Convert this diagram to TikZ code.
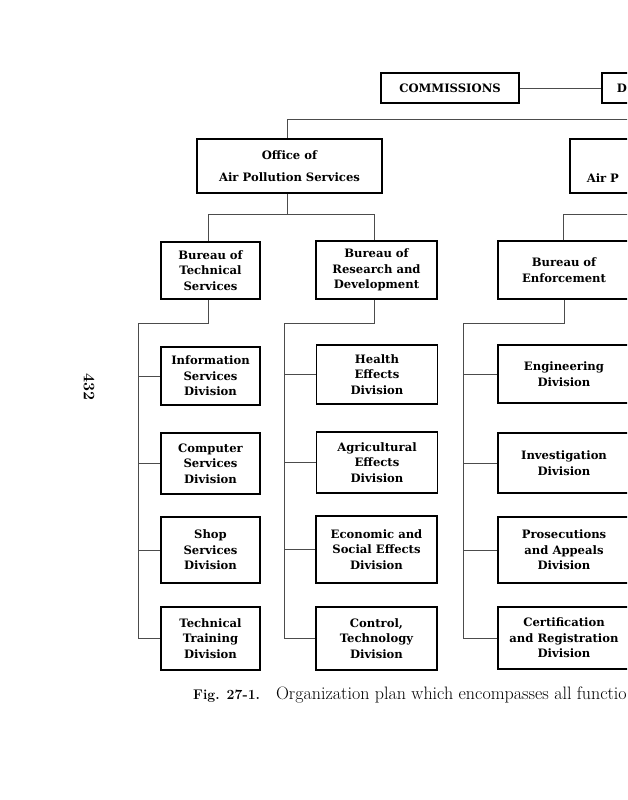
\documentclass[tikz,border=0pt]{standalone}
\usepackage{fontspec}
\newfontfamily\boxfont{DejaVu Serif}
\begin{document}
\begin{tikzpicture}[x=1pt,y=-1pt,
  box/.style={draw=black, line width=1.5pt, inner sep=0pt, align=center,
    font=\boxfont\bfseries\fontsize{11.6}{15.6}\selectfont},
  conn/.style={draw=black!70, line width=0.7pt},
]
\useasboundingbox[fill=white] (0,0) rectangle (627,800);
\clip (0,0) rectangle (627,800);

% top row
\node[box, minimum width=138pt, minimum height=30pt] (comm) at (450,88) {COMMISSIONS};
\node[box, anchor=west, minimum width=120pt, text width=120pt, minimum height=30pt, align=left] (dir) at (601,88) {\hspace*{15pt}D};

% offices
\node[box, minimum width=185pt, minimum height=54pt] (office) at (289.5,166) {Office of\\[7pt]Air Pollution Services};
\node[box, anchor=west, minimum width=200pt, text width=200pt, minimum height=54pt, align=left] (airp) at (569,166) {\strut\\[7pt]\hspace*{17pt}Air P};

% bureaus
\node[box, minimum width=99pt, minimum height=57pt] (btech) at (210.5,270.5) {Bureau of\\Technical\\Services};
\node[box, minimum width=121pt, minimum height=58pt] (brd) at (376.5,270) {Bureau of\\Research and\\Development};
\node[box, minimum width=132pt, minimum height=58pt] (benf) at (564,270) {Bureau of\\Enforcement};

% left column
\node[box, minimum width=99pt, minimum height=58pt] (info) at (210.5,376) {Information\\Services\\Division};
\node[box, minimum width=99pt, minimum height=61pt] (comp) at (210.5,463.5) {Computer\\Services\\Division};
\node[box, minimum width=99pt, minimum height=66pt] (shop) at (210.5,550) {Shop\\Services\\Division};
\node[box, minimum width=99pt, minimum height=63pt] (ttrain) at (210.5,638.5) {Technical\\Training\\Division};

% middle column
\node[box, minimum width=121pt, minimum height=59pt] (health) at (377,374.5) {Health\\Effects\\Division};
\node[box, minimum width=121pt, minimum height=61pt] (agri) at (377,462.5) {Agricultural\\Effects\\Division};
\node[box, minimum width=121pt, minimum height=67pt] (econ) at (376.5,549.5) {Economic and\\Social Effects\\Division};
\node[box, minimum width=121pt, minimum height=63pt] (control) at (376.5,638.5) {Control,\\Technology\\Division};

% right column
\node[box, minimum width=132pt, minimum height=58pt] (eng) at (564,374) {Engineering\\Division};
\node[box, minimum width=132pt, minimum height=60pt] (inv) at (564,463) {Investigation\\Division};
\node[box, minimum width=132pt, minimum height=66pt] (pros) at (564,550) {Prosecutions\\and Appeals\\Division};
\node[box, minimum width=132pt, minimum height=62pt] (cert) at (564,638) {Certification\\and Registration\\Division};

% connectors top
\draw[conn] (comm.east) -- (dir.west);
\coordinate (tb) at (287,119);
\coordinate (tbR) at (640,119);
\draw[conn] (tbR) -- (tb) -- (office.north -| tb);

\coordinate (ob) at (287,214);
\coordinate (obL) at (208,214);
\coordinate (obR) at (374,214);
\draw[conn] (office.south -| ob) -- (ob);
\draw[conn] (btech.north -| obL) -- (obL) -- (obR) -- (brd.north -| obR);

\coordinate (eb) at (563,214);
\coordinate (ebR) at (640,214);
\draw[conn] (benf.north -| eb) -- (eb) -- (ebR);

% left group
\coordinate (lb) at (208,323);
\coordinate (ls) at (138,323);
\draw[conn] (btech.south -| lb) -- (lb) -- (ls) -- (ls |- ttrain.west) -- (ttrain.west);
\foreach \n in {info,comp,shop} \draw[conn] (ls |- \n.west) -- (\n.west);

% middle group
\coordinate (mb) at (374,323);
\coordinate (ms) at (284,323);
\draw[conn] (brd.south -| mb) -- (mb) -- (ms) -- (ms |- control.west) -- (control.west);
\foreach \n in {health,agri,econ} \draw[conn] (ms |- \n.west) -- (\n.west);

% right group
\coordinate (rb) at (564,323);
\coordinate (rs) at (463,323);
\draw[conn] (benf.south -| rb) -- (rb) -- (rs) -- (rs |- cert.west) -- (cert.west);
\foreach \n in {eng,inv,pros} \draw[conn] (rs |- \n.west) -- (\n.west);

% page number
\node[rotate=-90, font=\bfseries\fontsize{16}{16}\selectfont] (pg) at (89,387) {432};

% caption
\node[anchor=base west, inner sep=0pt] (cap) at (193,699)
  {{\bfseries\fontsize{14}{14}\selectfont Fig. 27-1.}\hspace{16pt}{\fontsize{18}{18}\selectfont Organization plan which encompasses all functio}};
\end{tikzpicture}
\end{document}
